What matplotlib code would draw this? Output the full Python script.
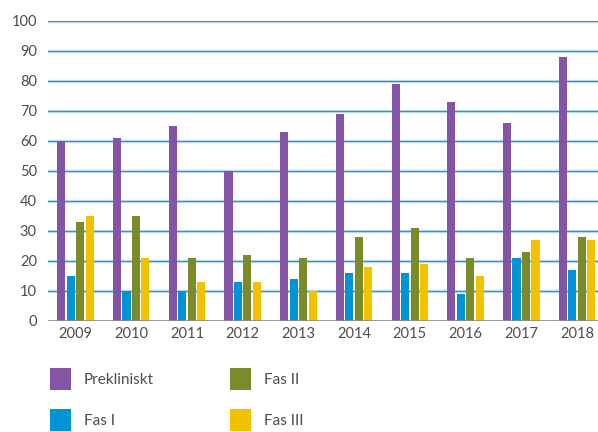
import matplotlib.pyplot as plt
import numpy as np

# Data
years = ["2009", "2010", "2011", "2012", "2013", "2014", "2015", "2016", "2017", "2018"]
prekliniskt = [60, 61, 65, 50, 63, 69, 79, 73, 66, 88]
fas_1 = [15, 10, 10, 13, 14, 16, 16, 9, 21, 17]
fas_2 = [33, 35, 21, 22, 21, 28, 31, 21, 23, 28]
fas_3 = [35, 21, 13, 13, 10, 18, 19, 15, 27, 27]

# Colors
c_purple = "#8455A4"
c_blue = "#0093D6"
c_green = "#7A8C2A"
c_yellow = "#F0C200"
c_text = "#4d4d4d"

plt.rcParams.update({"font.family": ["Lato", "DejaVu Sans"]})

fig = plt.figure(figsize=(5.98, 4.32), dpi=100)
ax = fig.add_axes([48 / 598, 1 - 321 / 432, 550 / 598, 300 / 432])

x = np.arange(len(years))
width = 0.145
step = 0.17
series = [
    ("Prekliniskt", prekliniskt, c_purple),
    ("Fas I", fas_1, c_blue),
    ("Fas II", fas_2, c_green),
    ("Fas III", fas_3, c_yellow),
]

# Gridlines: blue line with a faint light blue edge
for v in range(10, 101, 10):
    ax.axhline(v, color="#c4e3f5", linewidth=2.4, zorder=0)
    ax.axhline(v, color="#3592d0", linewidth=0.9, zorder=1)

for i, (label, vals, col) in enumerate(series):
    ax.bar(x + (i - 1.5) * step, vals, width, color=col, label=label, zorder=2)

ax.axhline(0, color="#8a8a8a", linewidth=1.2, zorder=3)

ax.set_xlim(-0.494, 9.377)
ax.set_ylim(0, 100)
ax.set_yticks(range(0, 101, 10))
ax.set_xticks(x)
ax.set_xticklabels(years)
ax.tick_params(length=0, labelsize=10.5, colors=c_text)
ax.tick_params(axis="y", pad=8)
ax.tick_params(axis="x", pad=4)
for spine in ax.spines.values():
    spine.set_visible(False)

fig.legend(
    loc="upper left",
    bbox_to_anchor=(50 / 598, 1 - 368 / 432),
    ncol=2,
    frameon=False,
    fontsize=11,
    labelcolor=c_text,
    handlelength=1.4,
    handleheight=1.8,
    handletextpad=0.8,
    labelspacing=1.3,
    columnspacing=5.0,
    borderaxespad=0,
    borderpad=0,
)

fig.savefig("out.png", dpi=100)
